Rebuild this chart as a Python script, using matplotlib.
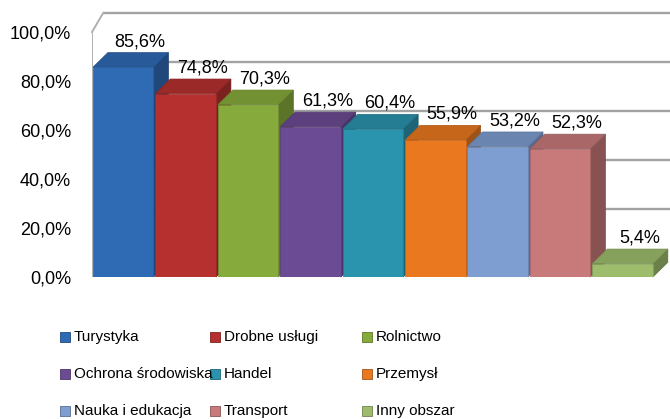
import matplotlib.pyplot as plt
from matplotlib.patches import Polygon, Rectangle
import matplotlib.colors as mcolors

categories = ["Turystyka", "Drobne usługi", "Rolnictwo", "Ochrona środowiska", "Handel",
              "Przemysł", "Nauka i edukacja", "Transport", "Inny obszar"]
values = [85.6, 74.8, 70.3, 61.3, 60.4, 55.9, 53.2, 52.3, 5.4]
colors = ["#2f6ab4", "#b5302e", "#86aa3b", "#6b4b93", "#2a93ad",
          "#e9781f", "#7e9dd0", "#c8797a", "#9dbd6c"]
yticks = [0, 20, 40, 60, 80, 100]


def darker(c, f):
    r, g, b = mcolors.to_rgb(c)
    return (r * f, g * f, b * f)


def pct(v):
    return f"{v:.1f}%".replace(".", ",")


def main():
    plt.rcParams["font.family"] = ["Liberation Sans", "DejaVu Sans"]
    fig = plt.figure(figsize=(6.7, 4.19), dpi=100)
    ax = fig.add_axes([92 / 670, 142 / 419, 578 / 670, 264.6 / 419])
    xmax = 8.76
    ax.set_xlim(-0.5, xmax)
    ax.set_ylim(0, 108)

    # back wall / grid
    wdx, wdy = 0.18, 7.8
    for t in yticks[1:]:
        ax.plot([-0.5 + wdx, xmax], [t + wdy, t + wdy], color="#a3a3a3", lw=1.7,
                zorder=1, clip_on=False, solid_capstyle="butt")
    ax.plot([-0.5, -0.5], [0, 100], color="#b0b0b0", lw=1.4, zorder=1)
    ax.plot([-0.5, -0.5 + wdx], [100, 100 + wdy], color="#b0b0b0", lw=1.4, zorder=1,
            clip_on=False)

    # bars (front, top, side)
    w = 0.97
    bdx, bdy = 0.24, 6.0
    for i, (v, c) in enumerate(zip(values, colors)):
        z = 3 + i * 0.1
        ax.bar(i, v, width=w, color=c, zorder=z + 0.02, edgecolor=darker(c, 0.85), lw=0.5)
        l, r = i - w / 2, i + w / 2
        top = Polygon([(l, v), (l + bdx, v + bdy), (r + bdx, v + bdy), (r, v)],
                      closed=True, facecolor=darker(c, 0.85), edgecolor=darker(c, 0.75),
                      lw=0.5, zorder=z + 0.01, clip_on=False)
        side = Polygon([(r, 0), (r + bdx, bdy), (r + bdx, v + bdy), (r, v)],
                       closed=True, facecolor=darker(c, 0.68), edgecolor=darker(c, 0.6),
                       lw=0.5, zorder=z, clip_on=False)
        ax.add_patch(top)
        ax.add_patch(side)
        ax.text(i + 0.27, v + bdy + 4.5, pct(v), ha="center", va="center",
                fontsize=13, color="black", zorder=10)

    ax.set_yticks(yticks)
    ax.set_yticklabels([pct(t) for t in yticks], fontsize=13)
    ax.tick_params(axis="y", length=0, pad=15)
    ax.set_xticks([])
    for s in ax.spines.values():
        s.set_visible(False)

    # legend, 3 columns filled row by row
    col_x = [60, 210, 362]
    row_y = [337, 374, 411]
    for k, (name, c) in enumerate(zip(categories, colors)):
        cx = col_x[k % 3]
        cy = row_y[k // 3]
        fig.add_artist(Rectangle((cx / 670, 1 - (cy + 5) / 419), 10 / 670, 10 / 419,
                                 transform=fig.transFigure, facecolor=c,
                                 edgecolor=darker(c, 0.7), lw=0.6))
        fig.text((cx + 14) / 670, 1 - cy / 419, name, ha="left", va="center",
                 fontsize=11, color="black")

    plt.savefig("out.png", dpi=100)


main()
